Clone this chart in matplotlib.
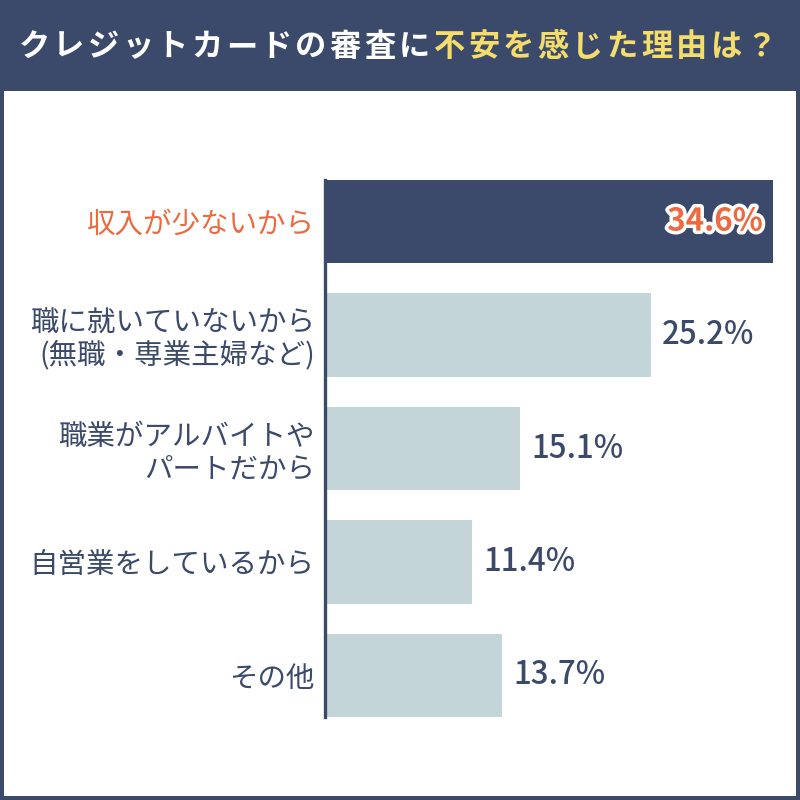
import matplotlib.pyplot as plt
import matplotlib.patheffects as pe
import numpy as np

plt.rcParams['font.family'] = ['Noto Sans CJK JP', 'DejaVu Sans']

labels = ['収入が少ないから', '職に就いていないから\n(無職・専業主婦など)',
          '職業がアルバイトや\nパートだから', '自営業をしているから', 'その他']
values = [34.6, 25.2, 15.1, 11.4, 13.7]
title_white = 'クレジットカードの審査に'
title_yellow = '不安を感じた理由は？'

navy = '#3b4a6b'
light = '#c3d5d8'
orange = '#ec6a3f'
yellow = '#f4dd6a'

fig = plt.figure(figsize=(8, 8), dpi=100)
fig.patch.set_facecolor(navy)

# white panel
panel = fig.add_axes([4/800, 4/800, 792/800, (796 - 91)/800])
panel.set_facecolor('white')
panel.set_xticks([])
panel.set_yticks([])
for s in panel.spines.values():
    s.set_visible(False)

# title, one character at a time to get the letter spacing
chars = [(c, 'white') for c in title_white] + [(c, yellow) for c in title_yellow]
pitch = 34.6
x0 = 18 + 16
for i, (c, col) in enumerate(chars):
    fig.text((x0 + i * pitch) / 800, 1 - 47/800, c, color=col, fontsize=22.5,
             fontweight='bold', ha='center', va='center')

h = 0.733
ax = fig.add_axes([324.5/800, 1 - 717/800, 470/800, 537/800])
ax.set_facecolor('none')
y = np.arange(len(values))
colors = [navy] + [light] * (len(values) - 1)
ax.barh(y, values, height=h, color=colors)
ax.set_xlim(0, 470/12.95)
ax.set_ylim(len(values) - 1 + h/2, -h/2)
ax.set_xticks([])
ax.set_yticks(y)
ax.set_yticklabels(labels, fontsize=20.5, color=navy, linespacing=1.1)
ax.get_yticklabels()[0].set_color(orange)
ax.tick_params(axis='y', length=0, pad=7)
for s in ['top', 'right', 'bottom']:
    ax.spines[s].set_visible(False)
ax.spines['left'].set_color(navy)
ax.spines['left'].set_linewidth(2.4)

for i, v in enumerate(values):
    if i == 0:
        ax.text(v - 0.75, i, f'{v}%', color=orange, fontsize=22.5, ha='right',
                va='center', fontweight='bold',
                path_effects=[pe.withStroke(linewidth=5, foreground='white')])
    else:
        ax.text(v + 0.85, i, f'{v}%', color=navy, fontsize=22.5, ha='left',
                va='center', fontweight='medium')

fig.savefig('out.png', dpi=100, facecolor=navy)
